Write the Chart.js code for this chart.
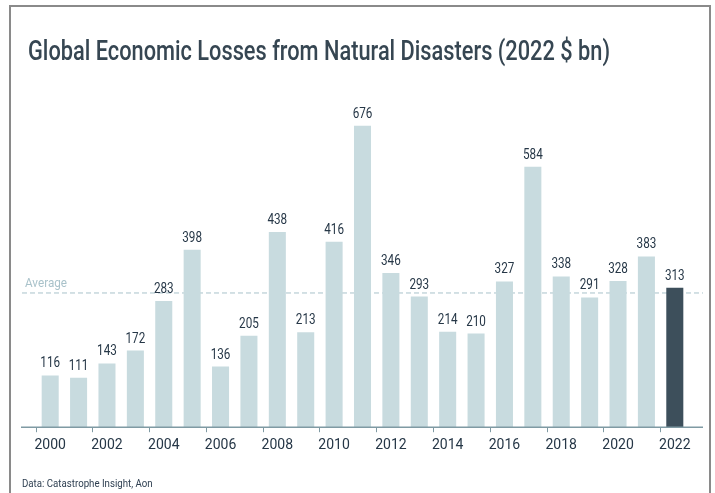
<!DOCTYPE html>
<html>
<head>
<meta charset="utf-8">
<script src="https://cdn.jsdelivr.net/npm/chart.js@4"></script>
<style>
  html, body { margin: 0; padding: 0; background: #fff; }
  #wrap { width: 715px; height: 493px; }
</style>
</head>
<body>
<div id="wrap"><canvas id="chart" width="715" height="493"></canvas></div>
<script>
const years = ['2000', '2001', '2002', '2003', '2004', '2005', '2006', '2007', '2008', '2009', '2010', '2011',
  '2012', '2013', '2014', '2015', '2016', '2017', '2018', '2019', '2020', '2021', '2022'];
const losses = [116, 111, 143, 172, 283, 398, 136, 205, 438, 213, 416, 676,
  346, 293, 214, 210, 327, 584, 338, 291, 328, 383, 313];
const averageLoss = 301;

const titleText = 'Global Economic Losses from Natural Disasters (2022 $ bn)';
const sourceText = 'Data: Catastrophe Insight, Aon';

const barColors = losses.map((v, i) => i === losses.length - 1 ? '#3d4f5b' : '#c8dbdf');

// frame, title, average line, value labels, source
const decorations = {
  id: 'decorations',
  beforeDraw(chart) {
    const ctx = chart.ctx;
    ctx.save();
    ctx.strokeStyle = '#8a8a8a';
    ctx.lineWidth = 2;
    ctx.beginPath();
    ctx.moveTo(10, 493);
    ctx.lineTo(10, 6);
    ctx.lineTo(710, 6);
    ctx.lineTo(710, 493);
    ctx.stroke();

    // title, squeezed to the width it takes in the original
    ctx.fillStyle = '#364652';
    ctx.font = '500 27px Roboto';
    ctx.textBaseline = 'alphabetic';
    const w = ctx.measureText(titleText).width;
    ctx.translate(28, 60);
    ctx.scale(582 / w, 1);
    ctx.fillText(titleText, 0, 0);
    ctx.restore();

    ctx.save();
    ctx.fillStyle = '#2d3e50';
    ctx.font = '11px Roboto';
    ctx.textBaseline = 'middle';
    ctx.translate(22, 484);
    ctx.scale(0.88, 1);
    ctx.fillText(sourceText, 0, 0);
    ctx.restore();
  },
  beforeDatasetsDraw(chart) {
    const ctx = chart.ctx;
    const y = chart.scales.y.getPixelForValue(averageLoss);
    ctx.save();
    ctx.strokeStyle = '#a9c2ca';
    ctx.lineWidth = 1;
    ctx.setLineDash([5, 3]);
    ctx.beginPath();
    ctx.moveTo(22, y);
    ctx.lineTo(703, y);
    ctx.stroke();
    ctx.setLineDash([]);
    ctx.fillStyle = '#a9c2ca';
    ctx.font = '13px Roboto';
    ctx.textBaseline = 'alphabetic';
    ctx.translate(25, y - 6);
    ctx.scale(0.9, 1);
    ctx.fillText('Average', 0, 0);
    ctx.restore();
  },
  afterDatasetsDraw(chart) {
    const ctx = chart.ctx;
    const bars = chart.getDatasetMeta(0).data;
    ctx.save();
    ctx.strokeStyle = '#7f9aa3';
    ctx.lineWidth = 1.5;
    ctx.beginPath();
    ctx.moveTo(21, chart.chartArea.bottom);
    ctx.lineTo(703, chart.chartArea.bottom);
    ctx.stroke();

    ctx.fillStyle = '#263747';
    ctx.font = '15px Roboto';
    ctx.textAlign = 'center';
    ctx.textBaseline = 'alphabetic';
    bars.forEach((bar, i) => {
      ctx.save();
      ctx.translate(bar.x, bar.y - 8);
      ctx.scale(0.78, 1);
      ctx.fillText(String(losses[i]), 0, 0);
      ctx.restore();
    });
    ctx.restore();
  }
};

new Chart(document.getElementById('chart'), {
  type: 'bar',
  data: {
    labels: years,
    datasets: [{
      data: losses,
      backgroundColor: barColors,
      barPercentage: 0.6,
      categoryPercentage: 1
    }]
  },
  options: {
    responsive: false,
    animation: false,
    layout: { padding: { left: 36, right: 26, top: 95, bottom: 34 } },
    plugins: {
      legend: { display: false },
      tooltip: { enabled: false }
    },
    scales: {
      x: {
        border: { display: false },
        grid: {
          drawOnChartArea: false,
          tickLength: 5,
          color: ctx => ctx.index % 2 === 0 ? '#7f9aa3' : 'transparent'
        },
        ticks: {
          autoSkip: false,
          maxRotation: 0,
          padding: 5,
          color: '#263747',
          font: { family: 'Roboto', size: 14 },
          callback: (v, i) => i % 2 === 0 ? years[i] : ''
        }
      },
      y: {
        display: false,
        min: 0,
        max: 745
      }
    }
  },
  plugins: [decorations]
});
</script>
</body>
</html>
